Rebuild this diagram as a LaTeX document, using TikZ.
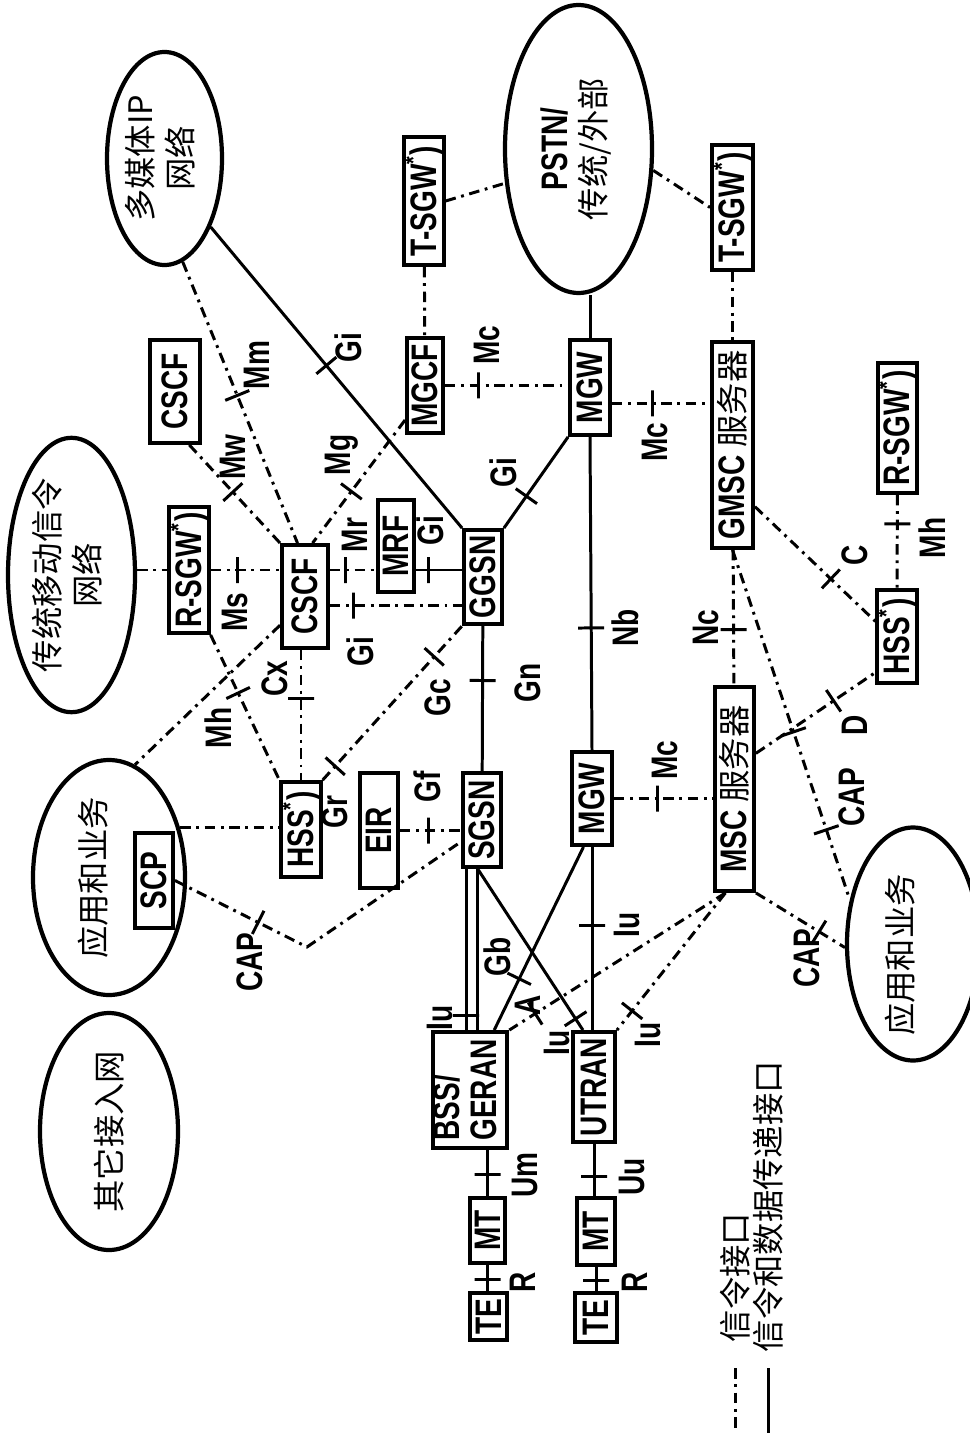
\documentclass[tikz,border=0pt]{standalone}
\usepackage{fontspec}
\setmainfont{Liberation Sans}[FakeStretch=0.76]
\newfontfamily\cjk{Noto Sans CJK SC}
\usepackage{graphicx}
\usetikzlibrary{shapes.geometric}

\newcommand{\vt}[1]{\rotatebox{90}{#1}}
\newcommand{\zh}[1]{{\cjk\mdseries\fontsize{9.2}{11.5}\selectfont #1}}
\newcommand{\twoc}[2]{\begin{tabular}{@{}c@{}}#1\\#2\end{tabular}}
\newcommand{\twol}[2]{\begin{tabular}{@{}l@{}}#1\\#2\end{tabular}}

\begin{document}
\begin{tikzpicture}[
  box/.style={rectangle, draw, line width=1.1pt, inner sep=0pt, font=\bfseries\fontsize{10.5}{10.5}\selectfont},
  sbox/.style={box, minimum width=0.38cm, minimum height=0.94cm},
  oval/.style={ellipse, draw, line width=1.2pt, inner sep=0pt, font=\bfseries\fontsize{10.5}{10.5}\selectfont},
  lbl/.style={rotate=90, inner sep=0pt, font=\bfseries\fontsize{10.5}{10.5}\selectfont},
  sig/.style={line width=0.85pt, dash pattern=on 3pt off 1.6pt on 0.8pt off 1.6pt},
  dat/.style={line width=0.85pt},
  tk/.style={sloped, draw, solid, line width=0.85pt, minimum width=0pt, minimum height=0.26cm, inner sep=0pt}
]
  \useasboundingbox (0,0) rectangle (9.69,-14.35);

  \node[oval, minimum width=1.15cm, minimum height=2.13cm] (mmip) at (1.645,-1.585) {\vt{\zh{\twoc{多媒体IP}{网络}}}};
  \node[oval, minimum width=1.47cm, minimum height=2.88cm] (pstn) at (5.785,-1.49) {\vt{\twoc{PSTN/}{\zh{传统/外部}}}};
  \node[oval, minimum width=1.27cm, minimum height=2.70cm] (legacy) at (0.715,-5.75) {\vt{\zh{\twoc{传统移动信令}{网络}}}};
  \node[oval, minimum width=1.52cm, minimum height=2.35cm] (appL) at (1.09,-8.775) {};
  \node[lbl] (appLtxt) at (0.93,-8.78) {\zh{应用和业务}};
  \node[oval, minimum width=1.38cm, minimum height=2.37cm] (other) at (1.09,-11.315) {\vt{\zh{其它接入网}}};
  \node[oval, minimum width=1.32cm, minimum height=2.33cm] (appR) at (9.13,-9.44) {};
  \node[lbl] (appRtxt) at (9.00,-9.55) {\zh{应用和业务}};

  \node[box, minimum width=0.50cm, minimum height=1.03cm] (cscfT) at (1.75,-3.915) {\vt{CSCF}};
  \node[box, minimum width=0.38cm, minimum height=1.28cm] (tsgwL) at (4.24,-2.01) {\vt{T-SGW\textsuperscript{*})}};
  \node[box, minimum width=0.36cm, minimum height=0.95cm] (mgcf) at (4.25,-3.855) {\vt{MGCF}};
  \node[box, minimum width=0.41cm, minimum height=1.25cm] (tsgwR) at (7.325,-2.075) {\vt{T-SGW\textsuperscript{*})}};
  \node[box, minimum width=0.40cm, minimum height=0.95cm] (mgwT) at (5.90,-3.875) {\vt{MGW}};
  \node[box, minimum width=0.41cm, minimum height=2.06cm] (gmsc) at (7.325,-4.45) {\vt{GMSC \zh{服务器}}};
  \node[box, minimum width=0.39cm, minimum height=1.30cm] (rsgwR) at (8.975,-4.28) {\vt{R-SGW\textsuperscript{*})}};
  \node[box, minimum width=0.38cm, minimum height=1.26cm] (rsgwL) at (1.89,-5.70) {\vt{R-SGW\textsuperscript{*})}};
  \node[box, minimum width=0.46cm, minimum height=1.03cm] (cscf) at (3.05,-5.965) {\vt{CSCF}};
  \node[box, minimum width=0.36cm, minimum height=0.92cm] (mrf) at (3.96,-5.46) {\vt{MRF}};
  \node[sbox] (ggsn) at (4.83,-5.77) {\vt{GGSN}};
  \node[sbox, minimum height=0.95cm] (hssL) at (3.01,-8.295) {\vt{HSS\textsuperscript{*})}};
  \node[sbox, minimum height=0.93cm] (hssR) at (8.97,-6.365) {\vt{HSS\textsuperscript{*})}};
  \node[sbox, minimum height=0.95cm] (scp) at (1.54,-8.805) {\vt{SCP}};
  \node[box, minimum width=0.38cm, minimum height=1.15cm] (eir) at (3.79,-8.305) {\vt{EIR}};
  \node[sbox] (sgsn) at (4.82,-8.20) {\vt{SGSN}};
  \node[box, minimum width=0.40cm, minimum height=0.93cm] (mgwB) at (5.92,-7.985) {\vt{MGW}};
  \node[box, minimum width=0.39cm, minimum height=2.04cm] (msc) at (7.345,-7.89) {\vt{MSC \zh{服务器}}};
  \node[box, minimum width=0.74cm, minimum height=1.16cm] (bss) at (4.70,-10.90) {\vt{\twol{BSS/}{GERAN}}};
  \node[box, minimum width=0.42cm, minimum height=1.10cm] (utran) at (5.94,-10.87) {\vt{UTRAN}};
  \node[box, minimum width=0.35cm, minimum height=0.65cm] (mtA) at (4.875,-12.305) {\vt{MT}};
  \node[box, minimum width=0.37cm, minimum height=0.47cm] (teA) at (4.885,-13.165) {\vt{TE}};
  \node[box, minimum width=0.38cm, minimum height=0.67cm] (mtB) at (5.96,-12.315) {\vt{MT}};
  \node[box, minimum width=0.42cm, minimum height=0.49cm] (teB) at (5.96,-13.175) {\vt{TE}};
  \coordinate (capbend) at (3.07,-9.47);

  \draw[sig] (mmip.-80) -- node[tk, pos=0.475]{} (cscf.98);
  \draw[sig] (cscfT.-75) -- node[tk, pos=0.48]{} (cscf.north west);
  \draw[sig] (mgcf.240) -- node[tk, pos=0.58]{} (cscf.82);
  \draw[dat] (mmip.-56) -- node[tk, pos=0.46]{} (ggsn.north west);
  \draw[sig] (tsgwL) -- (mgcf);
  \draw[sig] (tsgwL.east) -- (pstn.205);
  \draw[sig] (pstn.-16) -- (tsgwR.west);
  \draw[sig] (tsgwR) -- (gmsc);
  \draw[dat] (mgwT.north |- pstn.south) -- (mgwT.north);
  \draw[sig] (mgcf.east) -- node[tk, pos=0.27]{} (mgcf.east -| mgwT.west);
  \draw[sig] (mgwT.-36) -- node[tk, pos=0.41]{} (mgwT.-36 -| gmsc.west);
  \draw[dat] (ggsn.north east) -- node[tk, pos=0.35]{} (mgwT.south west);
  \draw[dat] (mgwT.south) -- node[tk, pos=0.61]{} (mgwB.north);

  \draw[sig] (legacy.east |- rsgwL) -- (rsgwL.west);
  \draw[sig] (rsgwL.east) -- node[tk, pos=0.38]{} (rsgwL -| cscf.west);
  \draw[sig] (rsgwL -| cscf.east) -- node[tk, pos=0.34]{} (rsgwL -| mrf.west);
  \draw[dat] (rsgwL -| mrf.east) -- node[tk, pos=0.28]{} (rsgwL -| ggsn.west);
  \draw[sig] (cscf.-20) -- node[tk, pos=0.18]{} (cscf.-20 -| ggsn.west);
  \draw[sig] (hssL.north |- cscf.south) -- node[tk, pos=0.37]{} (hssL.north);
  \draw[sig] (rsgwL.south east) -- node[tk, pos=0.40]{} (hssL.north west);
  \draw[sig] (cscf.229) -- (appL.77);
  \draw[sig] (hssL.north east) -- node[tk, pos=0.09]{} node[tk, pos=0.80]{} (ggsn.south west);
  \draw[dat] (ggsn) -- node[tk, pos=0.376]{} (sgsn);
  \draw[sig] (appL.35) -- (appL.35 -| hssL.west);
  \draw[sig] (eir.east) -- node[tk, pos=0.46]{} (eir.east -| sgsn.west);
  \draw[sig] (scp.east) -- node[tk, pos=0.63]{} (capbend) -- (sgsn.226);

  \draw[sig] (gmsc) -- node[tk, pos=0.59]{} (msc);
  \draw[sig] (gmsc.-70) -- node[tk, pos=0.63]{} (hssR.145);
  \draw[sig] (rsgwR) -- node[tk, pos=0.31]{} (hssR);
  \draw[sig] (msc.59) -- node[tk, pos=0.65]{} (hssR.239);
  \draw[sig] (gmsc.south) -- node[tk, pos=0.52]{} node[tk, pos=0.80]{} (appR.145);
  \draw[sig] (mgwB.east) -- node[tk, pos=0.44]{} (mgwB.east -| msc.west);
  \draw[dat] (mgwB.south) -- node[tk, pos=0.43]{} (mgwB.south |- utran.north);
  \draw[dat] (mgwB.260) -- node[tk, pos=0.72]{} (bss.68);
  \draw[dat] (sgsn.-108) -- node[tk, pos=0.91]{} (sgsn.-108 |- bss.north);
  \draw[dat] (sgsn.-95) -- (sgsn.-95 |- bss.north);
  \draw[dat] (sgsn.-95) -- node[tk, pos=0.93]{} (utran.101);
  \draw[sig] (msc.-95) -- node[tk, pos=0.88]{} (bss.north east);
  \draw[sig] (msc.-95) -- node[tk, pos=0.86]{} (utran.north east);
  \draw[sig] (msc.south east) -- node[tk, pos=0.71]{} (appR.183);
  \draw[dat] (mtA.north |- bss.south) -- node[tk, pos=0.54]{} (mtA.north);
  \draw[dat] (mtA.south) -- node[tk, pos=0.57]{} (mtA.south |- teA.north);
  \draw[dat] (utran.south) -- node[tk, pos=0.63]{} (utran.south |- mtB.north);
  \draw[dat] (mtB.south) -- node[tk, pos=0.57]{} (mtB.south |- teB.north);

  \node[lbl] (lmm) at (2.57,-3.65) {Mm};
  \node[lbl] (lmw) at (2.33,-4.57) {Mw};
  \node[lbl] (lgi1) at (3.48,-3.48) {Gi};
  \node[lbl] (lmg) at (3.42,-4.55) {Mg};
  \node[lbl] (lmc1) at (4.87,-3.45) {Mc};
  \node[lbl] (lmc2) at (6.55,-4.42) {Mc};
  \node[lbl] (lgi2) at (5.03,-4.73) {Gi};
  \node[lbl] (lms) at (2.35,-6.12) {Ms};
  \node[lbl] (lmr) at (3.55,-5.35) {Mr};
  \node[lbl] (lgi3) at (4.30,-5.31) {Gi};
  \node[lbl] (lgi4) at (3.60,-6.52) {Gi};
  \node[lbl] (lcx) at (2.75,-6.79) {Cx};
  \node[lbl] (lmh1) at (2.18,-7.28) {Mh};
  \node[lbl] (lgc) at (4.38,-6.98) {Gc};
  \node[lbl] (lgn) at (5.28,-6.83) {Gn};
  \node[lbl] (lgr) at (3.35,-8.12) {Gr};
  \node[lbl] (lgf) at (4.27,-7.87) {Gf};
  \node[lbl] (lcap1) at (2.50,-9.62) {CAP};
  \node[lbl] (lnb) at (6.25,-6.28) {Nb};
  \node[lbl] (lnc) at (7.06,-6.28) {Nc};
  \node[lbl] (lc) at (8.55,-5.55) {C};
  \node[lbl] (lmh2) at (9.32,-5.38) {Mh};
  \node[lbl] (ld) at (8.55,-7.25) {D};
  \node[lbl] (lcap2) at (8.52,-7.97) {CAP};
  \node[lbl] (lmc3) at (6.65,-7.60) {Mc};
  \node[lbl] (liu1) at (6.27,-9.25) {Iu};
  \node[lbl] (lcap3) at (8.07,-9.58) {CAP};
  \node[lbl] (lgb) at (4.97,-9.57) {Gb};
  \node[lbl] (la) at (5.28,-10.05) {A};
  \node[lbl] (liu2) at (4.40,-10.18) {Iu};
  \node[lbl] (liu3) at (5.57,-10.43) {Iu};
  \node[lbl] (liu4) at (6.48,-10.35) {Iu};
  \node[lbl] (lum) at (5.25,-11.75) {Um};
  \node[lbl] (luu) at (6.32,-11.77) {Uu};
  \node[lbl] (lr1) at (5.23,-12.82) {R};
  \node[lbl] (lr2) at (6.35,-12.82) {R};

  \node[lbl, anchor=west] (legsig) at (7.35,-13.43) {\zh{信令接口}};
  \node[lbl, anchor=west] (legdat) at (7.68,-13.53) {\zh{信令和数据传递接口}};
  \draw[sig] ([yshift=-2.5mm]legsig.west) -- ++(0,-0.62);
  \draw[dat] ([yshift=-1.5mm]legdat.west) -- ++(0,-0.65);
\end{tikzpicture}
\end{document}
